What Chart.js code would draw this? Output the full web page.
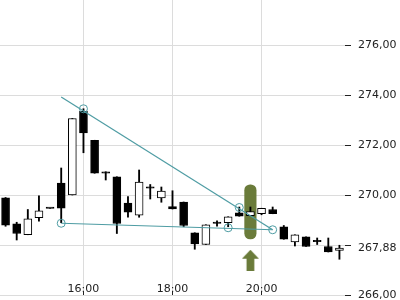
<!DOCTYPE html>
<html>
<head>
<meta charset="utf-8">
<script src="https://cdn.jsdelivr.net/npm/chart.js@4/dist/chart.umd.min.js"></script>
<style>
  html, body { margin: 0; padding: 0; background: #fff; }
  #wrap { width: 400px; height: 300px; position: relative; }
</style>
</head>
<body>
<div id="wrap"><canvas id="chart"></canvas></div>
<script>
'use strict';

// 15-minute candles
const times = ['14:15', '14:30', '14:45', '15:00', '15:15', '15:30', '15:45', '16:00',
    '16:15', '16:30', '16:45', '17:00', '17:15', '17:30', '17:45', '18:00',
    '18:15', '18:30', '18:45', '19:00', '19:15', '19:30', '19:45', '20:00',
    '20:15', '20:30', '20:45', '21:00', '21:15', '21:30', '21:45'];
const opens = [269.89, 268.85, 268.41, 269.09, 269.46, 270.48, 270.00, 273.35,
    272.19, 270.93, 270.73, 269.68, 269.19, 270.31, 269.88, 269.54,
    269.72, 268.49, 268.02, 268.86, 268.89, 269.29, 269.17, 269.25,
    269.42, 268.73, 268.12, 268.33, 268.13, 267.94, 267.78];
const highs = [269.90, 268.91, 269.42, 269.97, 269.46, 271.08, 273.06, 273.45,
    272.19, 270.93, 270.73, 269.94, 271.00, 270.42, 270.32, 270.17,
    269.72, 268.49, 268.81, 268.97, 269.13, 269.52, 269.52, 269.47,
    269.52, 268.78, 268.41, 268.33, 268.28, 268.28, 267.99];
const lows = [268.75, 268.20, 268.41, 268.95, 269.46, 268.89, 270.00, 271.69,
    270.87, 270.60, 268.46, 269.11, 269.11, 269.84, 269.71, 269.44,
    268.73, 267.83, 268.02, 268.75, 268.73, 269.15, 269.17, 269.21,
    269.25, 268.23, 267.96, 267.94, 268.02, 267.72, 267.43];
const closes = [268.79, 268.46, 269.05, 269.37, 269.46, 269.47, 273.06, 272.48,
    270.87, 270.87, 268.86, 269.31, 270.52, 270.27, 270.16, 269.44,
    268.78, 268.04, 268.81, 268.86, 269.13, 269.15, 269.34, 269.47,
    269.25, 268.23, 268.41, 267.94, 268.13, 267.72, 267.88];

// axis ticks
const hourTicks = ['16:00', '18:00', '20:00'];
const priceTicks = [266, 267.88, 268, 270, 272, 274, 276];
const lastPrice = 267.88;

// drawings
const trendTimes = ['15:30', '20:15'];
const upperTrend = [273.92, 268.61];
const lowerTrend = [268.87, 268.61];
const markTimes = ['15:30', '16:00', '19:15', '19:30', '20:15'];
const markPrices = [268.87, 273.45, 268.69, 269.50, 268.61];
const signalTime = '19:45';
const signalBand = [268.24, 270.41];
const arrowPrice = 267.39;

const teal = '#4e9ca3';
const olive = '#6a7b3a';

// arrow glyph used as point style
const arrow = document.createElement('canvas');
arrow.width = 17;
arrow.height = 21;
(function () {
    const c = arrow.getContext('2d');
    c.fillStyle = olive;
    c.beginPath();
    c.moveTo(0, 9);
    c.lineTo(8.5, 0);
    c.lineTo(17, 9);
    c.closePath();
    c.fill();
    c.fillRect(4.6, 9, 7.8, 12);
})();

const wickData = times.map((t, i) => [lows[i], highs[i]]);
const bodyData = times.map((t, i) => [opens[i], closes[i]]);
const bandData = times.map((t) => (t === signalTime ? signalBand : null));

function fmt(v) {
    return v.toFixed(2).replace('.', ',');
}

new Chart(document.getElementById('chart'), {
    type: 'bar',
    data: {
        labels: times,
        datasets: [
            {
                data: bandData,
                backgroundColor: olive,
                barThickness: 11.5,
                borderRadius: 6,
                borderSkipped: false,
                grouped: false,
                order: 5,
            },
            {
                data: wickData,
                backgroundColor: '#000',
                barThickness: 1.2,
                grouped: false,
                order: 4,
            },
            {
                data: bodyData,
                backgroundColor: (ctx) => (closes[ctx.dataIndex] > opens[ctx.dataIndex] ? '#fff' : '#000'),
                borderColor: '#000',
                borderWidth: 1,
                borderSkipped: false,
                barThickness: 8,
                minBarLength: 1.5,
                grouped: false,
                order: 3,
            },
            {
                type: 'line',
                data: trendTimes.map((t, i) => ({ x: t, y: upperTrend[i] })),
                borderColor: teal,
                borderWidth: 1.2,
                pointRadius: 0,
                order: 1,
            },
            {
                type: 'line',
                data: trendTimes.map((t, i) => ({ x: t, y: lowerTrend[i] })),
                borderColor: teal,
                borderWidth: 1.2,
                pointRadius: 0,
                order: 1,
            },
            {
                type: 'line',
                data: markTimes.map((t, i) => ({ x: t, y: markPrices[i] })),
                showLine: false,
                pointRadius: 4,
                pointBorderWidth: 1,
                pointBorderColor: teal,
                pointBackgroundColor: 'rgba(0,0,0,0)',
                order: 0,
            },
            {
                type: 'line',
                data: [{ x: signalTime, y: arrowPrice }],
                showLine: false,
                pointStyle: arrow,
                order: 0,
            },
        ],
    },
    options: {
        responsive: true,
        maintainAspectRatio: false,
        animation: false,
        layout: { padding: 0, autoPadding: false },
        font: { family: 'DejaVu Sans', size: 11 },
        plugins: {
            legend: { display: false },
            tooltip: { enabled: false },
        },
        scales: {
            x: {
                offset: true,
                border: { display: false },
                grid: {
                    offset: false,
                    tickLength: -4,
                    color: (ctx) => (hourTicks.includes(times[ctx.index]) ? '#dcdcdc' : 'rgba(0,0,0,0)'),
                    tickColor: (ctx) => (hourTicks.includes(times[ctx.index]) ? '#222' : 'rgba(0,0,0,0)'),
                },
                ticks: {
                    autoSkip: false,
                    maxRotation: 0,
                    mirror: true,
                    padding: -1,
                    color: '#222',
                    font: { family: 'DejaVu Sans', size: 11 },
                    callback: function (value) {
                        const lab = this.getLabelForValue(value);
                        return hourTicks.includes(lab) ? lab : '';
                    },
                },
                afterFit: (scale) => {
                    scale.height = 5;
                    scale.paddingLeft = 0;
                    scale.paddingRight = 0;
                },
            },
            y: {
                position: 'right',
                min: 266,
                max: 277.8,
                border: { display: false },
                grid: {
                    tickLength: 6,
                    color: (ctx) => (ctx.tick && ctx.tick.value === lastPrice ? 'rgba(0,0,0,0)' : '#dcdcdc'),
                    tickColor: (ctx) => (ctx.tick && ctx.tick.value === lastPrice ? 'rgba(0,0,0,0)' : '#222'),
                },
                ticks: {
                    autoSkip: false,
                    padding: 7,
                    color: '#222',
                    font: { family: 'DejaVu Sans', size: 11 },
                    callback: (value) => (value === 268 ? '' : fmt(value)),
                },
                afterBuildTicks: (scale) => {
                    scale.ticks = priceTicks.map((v) => ({ value: v }));
                },
                afterFit: (scale) => {
                    scale.width = 55;
                    scale.paddingTop = 0;
                    scale.paddingBottom = 0;
                },
            },
        },
    },
});
</script>
</body>
</html>
